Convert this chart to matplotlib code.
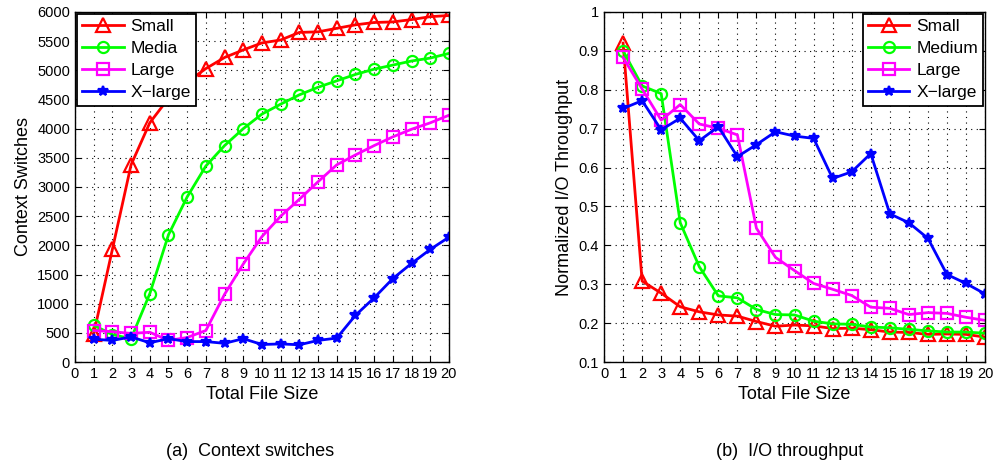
import numpy as np
from matplotlib import pyplot as plt

plt.rcParams['font.family'] = ['Liberation Sans', 'DejaVu Sans']

sizes = list(range(1, 21))

# (a) context switches
cs_small = [480, 1930, 3380, 4100, 4520, 4800, 5030, 5220, 5350, 5470, 5520,
            5650, 5660, 5720, 5780, 5820, 5830, 5870, 5920, 5940]
cs_medium = [630, 470, 400, 1170, 2180, 2830, 3360, 3710, 4000, 4250, 4420,
             4580, 4710, 4820, 4930, 5020, 5090, 5160, 5210, 5290]
cs_large = [540, 520, 490, 510, 370, 420, 540, 1160, 1680, 2150, 2500,
            2790, 3090, 3380, 3550, 3710, 3860, 3990, 4100, 4230]
cs_xlarge = [390, 370, 430, 330, 400, 350, 350, 320, 400, 300, 310,
             295, 370, 410, 800, 1100, 1430, 1690, 1930, 2140]

# (b) normalized I/O throughput
io_small = [0.92, 0.308, 0.277, 0.242, 0.229, 0.221, 0.218, 0.204, 0.192, 0.195,
            0.193, 0.186, 0.187, 0.183, 0.177, 0.176, 0.171, 0.172, 0.171, 0.164]
io_medium = [0.90, 0.81, 0.79, 0.458, 0.345, 0.27, 0.265, 0.235, 0.222, 0.221,
             0.205, 0.198, 0.197, 0.19, 0.188, 0.184, 0.18, 0.177, 0.177, 0.174]
io_large = [0.883, 0.802, 0.722, 0.762, 0.712, 0.701, 0.684, 0.444, 0.369, 0.335,
            0.302, 0.287, 0.271, 0.241, 0.238, 0.222, 0.227, 0.225, 0.215, 0.207]
io_xlarge = [0.752, 0.772, 0.697, 0.727, 0.669, 0.705, 0.628, 0.659, 0.692, 0.681,
             0.675, 0.572, 0.589, 0.636, 0.481, 0.458, 0.418, 0.325, 0.302, 0.275]

styles = [('r', '^', 10), ('#00ff00', 'o', 8), ('#ff00ff', 's', 8), ('b', '*', 7)]

fig = plt.figure(figsize=(9.93, 4.65), dpi=100)
ax1 = fig.add_axes([0.0755, 0.2215, 0.3766, 0.7527])
ax2 = fig.add_axes([0.6083, 0.2215, 0.3837, 0.7527])


def draw(ax, series, labels, loc):
    for (c, m, ms), ys, lab in zip(styles, series, labels):
        filled = m == '*'
        ax.plot(sizes, ys, color=c, marker=m, markersize=ms, linewidth=2,
                markeredgewidth=1.6, markerfacecolor=c if filled else 'none',
                label=lab)
    ax.set_xlim(0, 20)
    ax.set_xticks(range(0, 21))
    ax.grid(True, linestyle=(0, (1, 4)), color='k', linewidth=0.8)
    ax.tick_params(direction='in', top=True, right=True, labelsize=10.5,
                   length=4)
    for s in ax.spines.values():
        s.set_linewidth(1.0)
    ax.set_xlabel('Total File Size', fontsize=13, labelpad=4)
    leg = ax.legend(loc=loc, fontsize=12.5, handlelength=2.4, fancybox=False,
                    framealpha=1, borderaxespad=0.1, labelspacing=0.4,
                    handletextpad=0.4, borderpad=0.3)
    leg.get_frame().set_edgecolor('k')
    leg.get_frame().set_linewidth(1.3)


draw(ax1, [cs_small, cs_medium, cs_large, cs_xlarge],
     ['Small', 'Media', 'Large', 'X\u2212large'], 'upper left')
ax1.set_ylim(0, 6000)
ax1.set_yticks(range(0, 6001, 500))
ax1.set_ylabel('Context Switches', fontsize=13)

draw(ax2, [io_small, io_medium, io_large, io_xlarge],
     ['Small', 'Medium', 'Large', 'X\u2212large'], 'upper right')
ax2.set_ylim(0.1, 1)
ax2.set_yticks(np.arange(0.1, 1.01, 0.1))
ax2.set_yticklabels(['0.1', '0.2', '0.3', '0.4', '0.5', '0.6', '0.7', '0.8', '0.9', '1'])
ax2.set_ylabel('Normalized I/O Throughput', fontsize=13)

fig.text(0.252, 0.02, '(a)  Context switches', ha='center', fontsize=13)
fig.text(0.795, 0.02, '(b)  I/O throughput', ha='center', fontsize=13)

fig.savefig('out.png', dpi=100)
